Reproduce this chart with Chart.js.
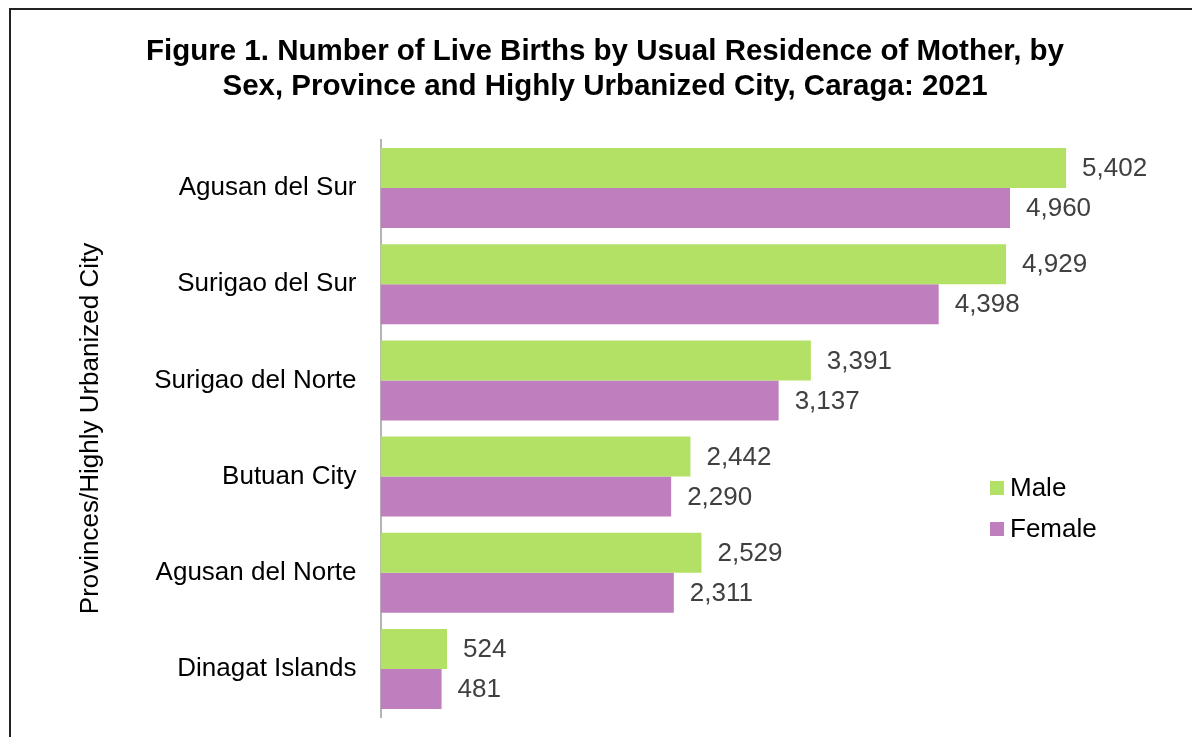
<!DOCTYPE html>
<html>
<head>
<meta charset="utf-8">
<title>Live Births by Usual Residence of Mother, Caraga 2021</title>
<script src="https://cdn.jsdelivr.net/npm/chart.js@4/dist/chart.umd.min.js"></script>
<style>
  html, body { margin: 0; padding: 0; background: #fff; overflow: hidden; }
  #wrap { position: relative; width: 1192px; height: 737px; }
  #frame { position: absolute; left: 9px; top: 8px; width: 1300px; height: 900px; border: 2px solid #222; }
  #chart { position: absolute; left: 0; top: 0; }
</style>
</head>
<body>
<div id="wrap">
  <div id="frame"></div>
  <canvas id="chart" width="1192" height="737"></canvas>
</div>
<script>
// categories, top to bottom
const provinces = ['Agusan del Sur', 'Surigao del Sur', 'Surigao del Norte', 'Butuan City', 'Agusan del Norte', 'Dinagat Islands'];
const maleBirths = [5402, 4929, 3391, 2442, 2529, 524];
const femaleBirths = [4960, 4398, 3137, 2290, 2311, 481];

const FONT = '"Liberation Sans", Arial, sans-serif';

// value labels at the end of each bar
const valueLabels = {
  id: 'valueLabels',
  afterDatasetsDraw(chart) {
    const ctx = chart.ctx;
    ctx.save();
    ctx.font = '26px ' + FONT;
    ctx.fillStyle = '#404040';
    ctx.textAlign = 'left';
    ctx.textBaseline = 'middle';
    chart.data.datasets.forEach((ds, i) => {
      chart.getDatasetMeta(i).data.forEach((bar, j) => {
        ctx.fillText(ds.data[j].toLocaleString('en-US'), bar.x + 16, bar.y + 1);
      });
    });
    ctx.restore();
  }
};

// legend sitting inside the plot, right side
const sideLegend = {
  id: 'sideLegend',
  afterDraw(chart) {
    const ctx = chart.ctx;
    const x = chart.width - 202;
    let y = 488;
    ctx.save();
    ctx.font = '26px ' + FONT;
    ctx.textAlign = 'left';
    ctx.textBaseline = 'middle';
    chart.data.datasets.forEach(ds => {
      ctx.fillStyle = ds.backgroundColor;
      ctx.fillRect(x, y - 7, 14, 14);
      ctx.fillStyle = '#000';
      ctx.fillText(ds.label, x + 20, y + 1);
      y += 41;
    });
    ctx.restore();
  }
};

new Chart(document.getElementById('chart'), {
  type: 'bar',
  data: {
    labels: provinces,
    datasets: [
      { label: 'Male', data: maleBirths, backgroundColor: '#b3e166' },
      { label: 'Female', data: femaleBirths, backgroundColor: '#bf7ebd' }
    ]
  },
  options: {
    indexAxis: 'y',
    responsive: false,
    animation: false,
    layout: { padding: { left: 68, right: 50, top: 10, bottom: 20 } },
    datasets: {
      bar: { categoryPercentage: 0.832, barPercentage: 1.0 }
    },
    scales: {
      x: {
        display: false,
        min: 0,
        max: 6000
      },
      y: {
        grid: { display: false },
        border: { display: true, color: '#b4b4b4', width: 2 },
        ticks: {
          color: '#000',
          padding: 16,
          font: { family: FONT, size: 26 }
        },
        title: {
          display: true,
          text: 'Provinces/Highly Urbanized City',
          color: '#000',
          padding: { top: 7, bottom: 0 },
          font: { family: FONT, size: 26 }
        },
        afterFit(scale) {
          scale.width = 312.5;
          scale.paddingTop = 0;
          scale.paddingBottom = 0;
        }
      }
    },
    plugins: {
      legend: { display: false },
      tooltip: { enabled: false },
      title: {
        display: true,
        text: ['Figure 1. Number of Live Births by Usual Residence of Mother, by',
               'Sex, Province and Highly Urbanized City, Caraga: 2021'],
        color: '#000',
        padding: { top: 25, bottom: 36 },
        font: { family: FONT, size: 29.5, weight: 'bold', lineHeight: 1.17 }
      }
    }
  },
  plugins: [valueLabels, sideLegend]
});
</script>
</body>
</html>
